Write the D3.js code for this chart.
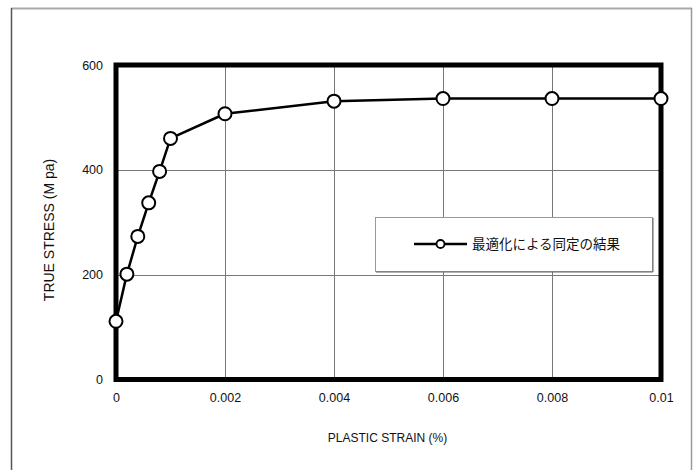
<!DOCTYPE html>
<html>
<head>
<meta charset="utf-8">
<script src="https://cdn.jsdelivr.net/npm/d3@7"></script>
<style>
  html, body { margin: 0; padding: 0; background: #fff; }
  svg { display: block; }
  text { font-family: "Liberation Sans", Arial, sans-serif; fill: #111; }
</style>
</head>
<body>
<svg id="chart" width="697" height="470"></svg>
<script>
// Plastic strain vs. true stress
const strain = [0, 0.0002, 0.0004, 0.0006, 0.0008, 0.001, 0.002, 0.004, 0.006, 0.008, 0.01];
const stress = [111, 201, 273, 337, 397, 460, 507, 531, 536, 536, 536];
const xTicks = [0, 0.002, 0.004, 0.006, 0.008, 0.01];
const xTickLabels = ["0", "0.002", "0.004", "0.006", "0.008", "0.01"];
const yTicks = [0, 200, 400, 600];
const yTickLabels = ["0", "200", "400", "600"];
const seriesName = "最適化による同定の結果";
const xTitle = "PLASTIC STRAIN (%)";
const yTitle = "TRUE STRESS (M pa)";

const W = 697, H = 470;
const plot = { left: 116, right: 661, top: 65, bottom: 379.5 };

const svg = d3.select("#chart");
const x = d3.scaleLinear().domain([0, 0.01]).range([plot.left, plot.right]);
const y = d3.scaleLinear().domain([0, 600]).range([plot.bottom, plot.top]);

// Outer frame
svg.append("rect").attr("x", 0).attr("y", 0).attr("width", W).attr("height", H).attr("fill", "#fff");
svg.append("line").attr("x1", 11).attr("x2", 692).attr("y1", 8.5).attr("y2", 8.5)
  .attr("stroke", "#aaa").attr("stroke-width", 2);
svg.append("line").attr("x1", 11.5).attr("x2", 11.5).attr("y1", 8).attr("y2", H)
  .attr("stroke", "#555").attr("stroke-width", 1.5);
svg.append("line").attr("x1", 691.5).attr("x2", 691.5).attr("y1", 8).attr("y2", H)
  .attr("stroke", "#999").attr("stroke-width", 1.5);

// Grid lines
const grid = svg.append("g").attr("stroke", "#777").attr("stroke-width", 1);
grid.selectAll(".vg").data(xTicks.slice(1, -1)).join("line")
  .attr("x1", d => Math.round(x(d)) + 0.5).attr("x2", d => Math.round(x(d)) + 0.5)
  .attr("y1", plot.top).attr("y2", plot.bottom);
grid.selectAll(".hg").data(yTicks.slice(1, -1)).join("line")
  .attr("y1", d => Math.round(y(d)) + 0.5).attr("y2", d => Math.round(y(d)) + 0.5)
  .attr("x1", plot.left).attr("x2", plot.right);

// Axes (labels only, no tick marks)
const xAxis = d3.axisBottom(x).tickValues(xTicks).tickSize(0).tickPadding(0)
  .tickFormat((d, i) => xTickLabels[i]);
const gx = svg.append("g").attr("transform", `translate(0,${plot.bottom + 11})`).call(xAxis);
gx.select(".domain").remove();
gx.selectAll("text").attr("font-size", 12.5).attr("dy", "0.9em")
  .style("font-family", "'Liberation Sans', Arial, sans-serif").attr("fill", "#111");

const yAxis = d3.axisLeft(y).tickValues(yTicks).tickSize(0).tickPadding(0)
  .tickFormat((d, i) => yTickLabels[i]);
const gy = svg.append("g").attr("transform", `translate(${plot.left - 13},0)`).call(yAxis);
gy.select(".domain").remove();
gy.selectAll("text").attr("font-size", 12.5)
  .style("font-family", "'Liberation Sans', Arial, sans-serif").attr("fill", "#111");

// Axis titles
svg.append("text").attr("x", (plot.left + plot.right) / 2 - 1).attr("y", 442)
  .attr("text-anchor", "middle").attr("font-size", 12).text(xTitle);
svg.append("text")
  .attr("transform", `translate(54,230) rotate(-90)`)
  .attr("text-anchor", "middle").attr("font-size", 14).text(yTitle);

// Heavy plot border
svg.append("rect").attr("x", plot.left).attr("y", plot.top)
  .attr("width", plot.right - plot.left).attr("height", plot.bottom - plot.top)
  .attr("fill", "none").attr("stroke", "#000").attr("stroke-width", 5);

// Legend box
const lg = { x: 375, y: 217, w: 277, h: 54 };
svg.append("rect").attr("x", lg.x + 0.5).attr("y", lg.y + 0.5).attr("width", lg.w).attr("height", lg.h)
  .attr("fill", "#fff").attr("stroke", "#999").attr("stroke-width", 1);
svg.append("line").attr("x1", lg.x + 1).attr("x2", lg.x + lg.w + 1).attr("y1", lg.y + lg.h + 1).attr("y2", lg.y + lg.h + 1)
  .attr("stroke", "#666").attr("stroke-width", 1);
svg.append("line").attr("x1", lg.x + lg.w + 1).attr("x2", lg.x + lg.w + 1).attr("y1", lg.y + 1).attr("y2", lg.y + lg.h + 1)
  .attr("stroke", "#666").attr("stroke-width", 1);
const ly = 244;
svg.append("line").attr("x1", 414).attr("x2", 467).attr("y1", ly).attr("y2", ly)
  .attr("stroke", "#000").attr("stroke-width", 2.5);
svg.append("circle").attr("cx", 440.5).attr("cy", ly).attr("r", 4)
  .attr("fill", "#fff").attr("stroke", "#000").attr("stroke-width", 1.8);
svg.append("text").attr("x", 472).attr("y", ly + 5)
  .attr("font-size", 13.5).style("font-family", "'Noto Sans CJK JP', sans-serif")
  .text(seriesName);

// Data series
const pts = strain.map((s, i) => [s, stress[i]]);
const line = d3.line().x(d => x(d[0])).y(d => y(d[1]));
svg.append("path").datum(pts).attr("d", line)
  .attr("fill", "none").attr("stroke", "#000").attr("stroke-width", 2.5).attr("stroke-linejoin", "round");
svg.selectAll(".pt").data(pts).join("circle")
  .attr("cx", d => x(d[0])).attr("cy", d => y(d[1])).attr("r", 6.5)
  .attr("fill", "#fff").attr("stroke", "#000").attr("stroke-width", 2);
</script>
</body>
</html>
